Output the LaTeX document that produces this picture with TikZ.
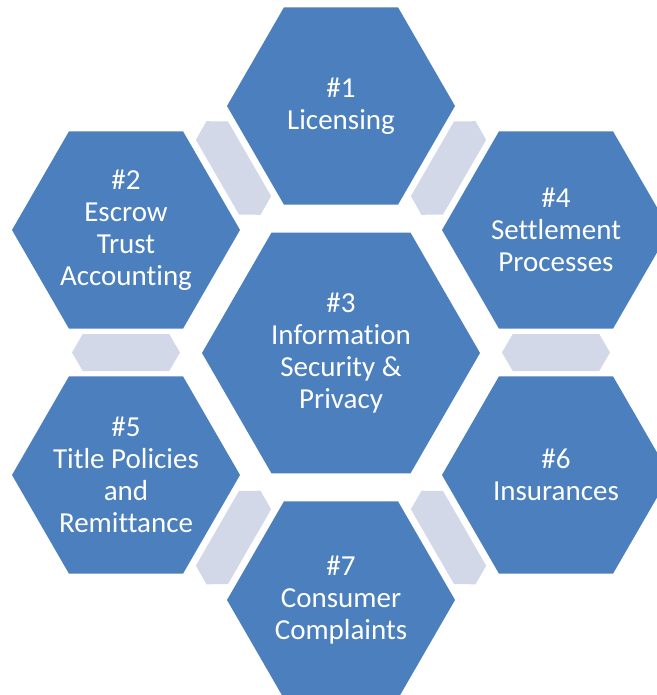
\documentclass[tikz,border=0pt]{standalone}
\usepackage{fontspec}
\setmainfont{Carlito}[Ligatures={NoCommon}]
\usetikzlibrary{shapes.geometric,calc}
\definecolor{hexblue}{RGB}{75,127,189}
\definecolor{bondgrey}{RGB}{211,216,232}

\begin{document}
\begin{tikzpicture}[x=1pt,y=-1pt,
    hex/.style={regular polygon,regular polygon sides=6,fill=hexblue,
                inner sep=-12pt,outer sep=0pt,text=white,align=center,
                font=\fontsize{29}{32}\selectfont},
    hexsmall/.style={hex,minimum size=228pt},
    hexbig/.style={hex,minimum size=278pt},
    bond/.pic={\fill[bondgrey] (-54,0) -- (-43.2,-18.5) -- (43.2,-18.5)
                 -- (54,0) -- (43.2,18.5) -- (-43.2,18.5) -- cycle;}]
   \useasboundingbox[fill=white] (0,0) rectangle (656,695);
   \node[hexsmall] (lic)        at (341,106) {\#1\\Licensing};
   \node[hexsmall] (escrow)     at (126,230) {\#2\\Escrow\\Trust\\Accounting};
   \node[hexbig]   (infosec)    at (341,353) {\#3\\Information\\Security \&\\Privacy};
   \node[hexsmall] (settle)     at (556,230) {\#4\\Settlement\\Processes};
   \node[hexsmall] (title)      at (126,475) {\#5\\Title Policies\\and\\Remittance};
   \node[hexsmall] (insur)      at (556,475) {\#6\\Insurances};
   \node[hexsmall] (complaints) at (341,600) {\#7\\Consumer\\Complaints};

   \pic[rotate=-60] at ($(lic)!.5!(escrow)$) {bond};
   \pic[rotate=60]  at ($(lic)!.5!(settle)$) {bond};
   \pic             at ($(escrow)!.5!(title)$) {bond};
   \pic             at ($(settle)!.5!(insur)$) {bond};
   \pic[rotate=60]  at ($(title)!.5!(complaints)$) {bond};
   \pic[rotate=-60] at ($(insur)!.5!(complaints)$) {bond};
\end{tikzpicture}
\end{document}
